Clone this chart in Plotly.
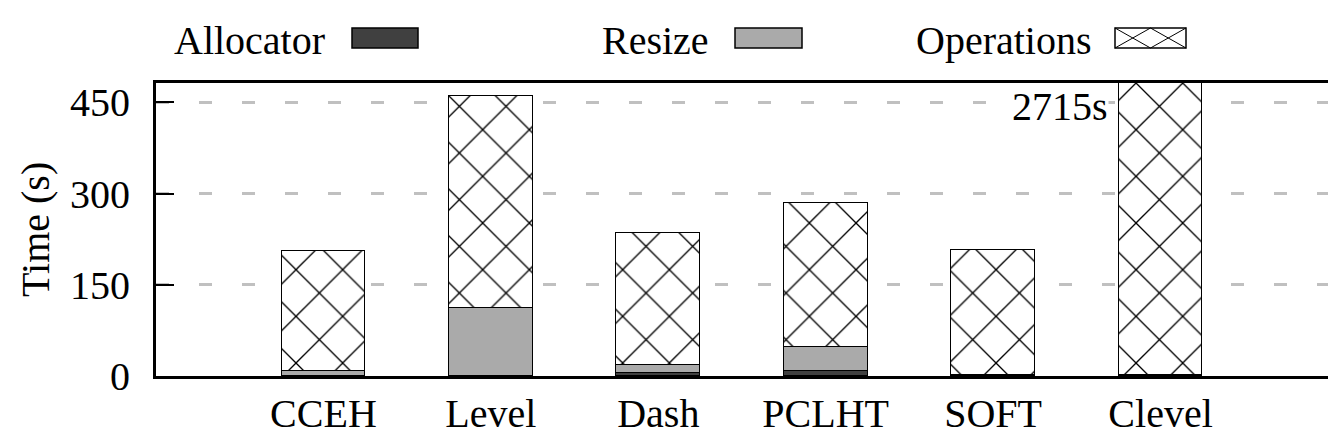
import plotly.graph_objects as go

categories = ["CCEH", "Level", "Dash", "PCLHT", "SOFT", "Clevel"]
allocator = [0.5, 0.5, 4.6, 8.6, 1.0, 1.0]
resize = [8.5, 111.5, 12.8, 38.4, 1.0, 1.0]
operations = [197.0, 349.0, 217.6, 238.0, 206.0, 2713.0]
series_names = ["Allocator", "Resize", "Operations"]
y_ticks = [0, 150, 300, 450]
y_title = "Time (s)"

FONT = "Liberation Serif, Times New Roman, serif"
FS = 40

# page has an 8px body margin: figure occupies page pixels 8..1336, 8..438
OFF = 8
W, H = 1336 - OFF, 438 - OFF
L, R, T, B = 156 - OFF, 8, 83 - OFF, 62
PW = W - L - R
PH = H - T - B


def px_x(px):
    return (px - OFF - L) / PW


def px_y(py):
    return (H - B - (py - OFF)) / PH


fig = go.Figure()
line = dict(color="black", width=1.5)
fig.add_trace(go.Bar(x=categories, y=allocator, name=series_names[0], width=0.5,
                     marker=dict(color="#404040", line=line)))
fig.add_trace(go.Bar(x=categories, y=resize, name=series_names[1], width=0.5,
                     marker=dict(color="#aaaaaa", line=line)))
fig.add_trace(go.Bar(x=categories, y=operations, name=series_names[2], width=0.5,
                     marker=dict(color="white", line=line,
                                 pattern=dict(shape="x", size=33, solidity=0.08,
                                              fgcolor="black", bgcolor="white",
                                              fgopacity=1, fillmode="replace"))))

totals = [a + r + o for a, r, o in zip(allocator, resize, operations)]
ymax = 482
for cat, tot in zip(categories, totals):
    if tot > ymax:
        fig.add_annotation(x=cat, y=443, xref="x", yref="y", text=f"{round(tot)}s",
                           showarrow=False, xanchor="right", yanchor="middle",
                           xshift=-52, bgcolor="white", borderpad=0,
                           font=dict(family=FONT, size=FS, color="black"))

# y-axis title
fig.add_annotation(x=px_x(35), y=px_y(230), xref="paper", yref="paper", text=y_title,
                   textangle=-90, showarrow=False, xanchor="center", yanchor="middle",
                   font=dict(family=FONT, size=FS, color="black"))

# custom gnuplot-style legend (text left, swatch right)
legend_items = [
    (series_names[0], 327, 352, 418, "#404040", False),
    (series_names[1], 711, 735, 802, "#aaaaaa", False),
    (series_names[2], 1094, 1115, 1186, "white", True),
]
ly0, ly1, lyc = 28, 48, 40
for name, tx, sx0, sx1, col, hatch in legend_items:
    fig.add_annotation(x=px_x(tx), y=px_y(lyc), xref="paper", yref="paper", text=name,
                       showarrow=False, xanchor="right", yanchor="middle",
                       font=dict(family=FONT, size=FS, color="black"))
    fig.add_shape(type="rect", xref="paper", yref="paper",
                  x0=px_x(sx0), x1=px_x(sx1), y0=px_y(ly1), y1=px_y(ly0),
                  fillcolor=col, line=dict(color="black", width=1.5), layer="above")
    if hatch:
        xm = (sx0 + sx1) / 2
        for a, b in [(sx0, xm), (xm, sx1)]:
            fig.add_shape(type="line", xref="paper", yref="paper",
                          x0=px_x(a), x1=px_x(b), y0=px_y(ly0), y1=px_y(ly1),
                          line=dict(color="black", width=1))
            fig.add_shape(type="line", xref="paper", yref="paper",
                          x0=px_x(a), x1=px_x(b), y0=px_y(ly1), y1=px_y(ly0),
                          line=dict(color="black", width=1))

fig.update_layout(
    width=W, height=H, barmode="stack", showlegend=False,
    margin=dict(l=L, r=R, t=T, b=B, autoexpand=False),
    paper_bgcolor="white", plot_bgcolor="white",
    font=dict(family=FONT, size=FS, color="black"),
    bargap=0,
)
fig.update_xaxes(type="category", categoryorder="array", categoryarray=categories,
                 range=[-1, 6], showline=True, linecolor="black", linewidth=3, mirror=True,
                 ticks="", showgrid=False, ticklabelstandoff=0, automargin=False,
                 tickfont=dict(family=FONT, size=FS, color="black"))
fig.update_yaxes(range=[0, ymax], tickvals=y_ticks, showline=True, linecolor="black",
                 linewidth=3, mirror=True, ticks="inside", ticklen=18, tickwidth=2,
                 tickcolor="black", showgrid=True, gridcolor="#c0c0c0", gridwidth=3,
                 griddash="13px,30px", zeroline=False, ticklabelstandoff=15,
                 automargin=False,
                 tickfont=dict(family=FONT, size=FS, color="black"))

fig.write_html("out.html")
